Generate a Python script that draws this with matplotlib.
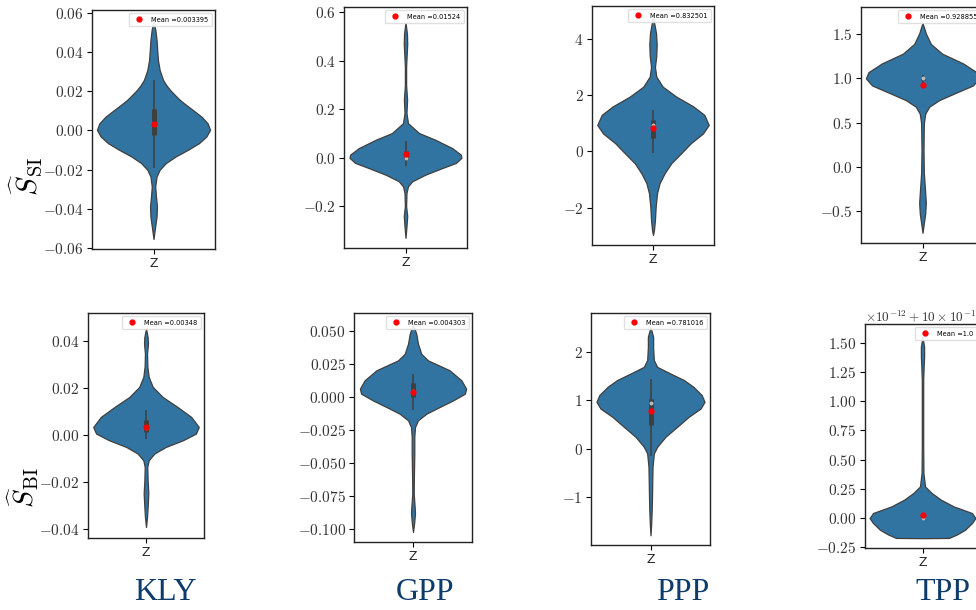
"""
violin grid: sensitivity estimates per model (rows SI / BI, columns KLY..TPP)
output: out.png
"""
import matplotlib.pyplot as plt
import numpy as np

plt.rcParams['mathtext.fontset'] = 'cm'
plt.rcParams['font.family'] = ['DejaVu Sans']

# ===== data =====
# violin outline: y values and half-widths (x units, xlim = -0.5..0.5)
kly_si_y = [-0.0554, -0.0507, -0.0439, -0.0388, -0.0337, -0.0286, -0.0235, -0.0201, -0.0167,
            -0.0133, -0.0099, -0.0065, -0.0031, 0.0003, 0.0036, 0.0070, 0.0104, 0.0130,
            0.0155, 0.0180, 0.0206, 0.0230, 0.0257, 0.0308, 0.0359, 0.0410, 0.0460,
            0.0512, 0.0563]
kly_si_w = [0, 0.010, 0.025, 0.028, 0.020, 0.014, 0.025, 0.050, 0.100, 0.180, 0.280, 0.370,
            0.430, 0.460, 0.440, 0.390, 0.320, 0.265, 0.215, 0.175, 0.135, 0.105, 0.078,
            0.050, 0.036, 0.030, 0.025, 0.015, 0]

gpp_si_y = [-0.33, -0.283, -0.24, -0.2, -0.145, -0.118, -0.097, -0.07, -0.042, -0.021, 0.0,
            0.013, 0.04, 0.075, 0.102, 0.143, 0.185, 0.24, 0.30, 0.377, 0.47, 0.51, 0.56]
gpp_si_w = [0, 0.008, 0.014, 0.005, 0.008, 0.020, 0.054, 0.160, 0.300, 0.410, 0.455,
            0.450, 0.380, 0.240, 0.110, 0.020, 0.008, 0.013, 0.005, 0.005, 0.014, 0.012, 0]

ppp_si_y = [-2.97, -2.8, -2.44, -1.96, -1.49, -1.13, -0.78, -0.42, -0.07, 0.29, 0.64, 0.94,
            1.3, 1.6, 1.95, 2.3, 2.66, 3.0, 3.4, 3.8, 4.2, 4.8]
ppp_si_w = [0, 0.008, 0.016, 0.022, 0.033, 0.054, 0.095, 0.150, 0.230, 0.310, 0.410, 0.457,
            0.420, 0.330, 0.190, 0.080, 0.027, 0.016, 0.027, 0.030, 0.025, 0]

tpp_si_y = [-0.75, -0.64, -0.53, -0.41, -0.3, -0.07, 0.19, 0.49, 0.60, 0.68, 0.755, 0.83,
            0.92, 1.0, 1.07, 1.17, 1.28, 1.39, 1.51, 1.63]
tpp_si_w = [0, 0.011, 0.022, 0.027, 0.022, 0.011, 0.008, 0.011, 0.022, 0.055, 0.137, 0.260,
            0.410, 0.460, 0.440, 0.330, 0.160, 0.068, 0.027, 0]

kly_bi_y = [-0.0393, -0.035, -0.0308, -0.025, -0.0194, -0.0137, -0.0109, -0.008, -0.0052,
            -0.0023, 0.0005, 0.0033, 0.0076, 0.0119, 0.0161, 0.0204, 0.0247, 0.029, 0.0346,
            0.0389, 0.0417, 0.0453]
kly_bi_w = [0, 0.009, 0.014, 0.020, 0.014, 0.011, 0.023, 0.072, 0.170, 0.320, 0.430, 0.455,
            0.390, 0.270, 0.144, 0.058, 0.023, 0.012, 0.009, 0.017, 0.014, 0]

gpp_bi_y = [-0.102, -0.0957, -0.088, -0.083, -0.073, -0.0578, -0.0427, -0.03, -0.0225,
            -0.0174, -0.0124, -0.0073, -0.0023, 0.0028, 0.0066, 0.0129, 0.0205, 0.028,
            0.033, 0.0407, 0.048, 0.0558]
gpp_bi_w = [0, 0.009, 0.017, 0.014, 0.006, 0.008, 0.011, 0.011, 0.017, 0.042, 0.113, 0.226,
            0.340, 0.440, 0.450, 0.410, 0.310, 0.127, 0.070, 0.042, 0.028, 0]

ppp_bi_y = [-1.78, -1.53, -1.19, -0.78, -0.37, -0.094, 0.043, 0.25, 0.455, 0.66, 0.83, 0.97,
            1.11, 1.28, 1.42, 1.55, 1.69, 1.83, 2.10, 2.31, 2.51]
ppp_bi_w = [0, 0.006, 0.011, 0.014, 0.017, 0.028, 0.056, 0.126, 0.224, 0.320, 0.420, 0.454,
            0.430, 0.360, 0.280, 0.170, 0.056, 0.028, 0.022, 0.022, 0]

tpp_bi_y = [-0.172, -0.17, -0.14, -0.1, -0.043, 0.0, 0.043, 0.1, 0.157, 0.214, 0.27, 0.385,
            0.61, 0.896, 1.18, 1.295, 1.38, 1.465, 1.55]
tpp_bi_w = [0, 0.23, 0.30, 0.37, 0.43, 0.46, 0.43, 0.27, 0.16, 0.08, 0.022, 0.008, 0.006,
            0.006, 0.006, 0.010, 0.014, 0.014, 0]

# inner box: whisker low/high, q1/q3, median
box_stats = {
    'kly_si': [-0.019, 0.0257, -0.0023, 0.0108, 0.0035],
    'gpp_si': [-0.035, 0.070, -0.005, 0.027, 0.0],
    'ppp_si': [-0.07, 1.47, 0.47, 1.12, 0.95],
    'tpp_si': [0.95, 1.04, 0.985, 1.01, 1.0],
    'kly_bi': [-0.0016, 0.0107, 0.0012, 0.0062, 0.003],
    'gpp_bi': [-0.0093, 0.018, 0.0003, 0.011, 0.005],
    'ppp_bi': [-0.15, 1.44, 0.49, 1.02, 0.95],
    'tpp_bi': [-0.01, 0.01, -0.005, 0.005, 0.0],
}
means = {'kly_si': 0.003395, 'gpp_si': 0.01524, 'ppp_si': 0.832501, 'tpp_si': 0.928855,
         'kly_bi': 0.00348, 'gpp_bi': 0.004303, 'ppp_bi': 0.781016, 'tpp_bi': 0.03}
mean_labels = {'kly_si': 'Mean =0.003395', 'gpp_si': 'Mean =0.01524',
               'ppp_si': 'Mean =0.832501', 'tpp_si': 'Mean =0.928855',
               'kly_bi': 'Mean =0.00348', 'gpp_bi': 'Mean =0.004303',
               'ppp_bi': 'Mean =0.781016', 'tpp_bi': 'Mean =1.0'}

yticks = {
    'kly_si': [-0.06, -0.04, -0.02, 0.0, 0.02, 0.04, 0.06],
    'gpp_si': [-0.2, 0.0, 0.2, 0.4, 0.6],
    'ppp_si': [-2, 0, 2, 4],
    'tpp_si': [-0.5, 0.0, 0.5, 1.0, 1.5],
    'kly_bi': [-0.04, -0.02, 0.0, 0.02, 0.04],
    'gpp_bi': [-0.1, -0.075, -0.05, -0.025, 0.0, 0.025, 0.05],
    'ppp_bi': [-1, 0, 1, 2],
    'tpp_bi': [-0.25, 0.0, 0.25, 0.5, 0.75, 1.0, 1.25, 1.5],
}
tick_decimals = {'kly_si': 2, 'gpp_si': 1, 'ppp_si': 0, 'tpp_si': 1,
                 'kly_bi': 2, 'gpp_bi': 3, 'ppp_bi': 0, 'tpp_bi': 2}

models = ['KLY', 'GPP', 'PPP', 'TPP']
rows = ['si', 'bi']
row_labels = [r'$\widehat{S}_{\mathrm{SI}}$', r'$\widehat{S}_{\mathrm{BI}}$']
x_label = 'Z'

outlines = {
    'kly_si': (kly_si_y, kly_si_w), 'gpp_si': (gpp_si_y, gpp_si_w),
    'ppp_si': (ppp_si_y, ppp_si_w), 'tpp_si': (tpp_si_y, tpp_si_w),
    'kly_bi': (kly_bi_y, kly_bi_w), 'gpp_bi': (gpp_bi_y, gpp_bi_w),
    'ppp_bi': (ppp_bi_y, ppp_bi_w), 'tpp_bi': (tpp_bi_y, tpp_bi_w),
}

# ===== layout (pixels: left, top, right, bottom) and y ranges =====
W, H = 976, 610
ax_px = {
    'kly_si': (92, 10, 215, 249), 'gpp_si': (344, 7, 467, 248),
    'ppp_si': (592, 6, 714, 245), 'tpp_si': (861, 7, 984, 243),
    'kly_bi': (88, 313, 204, 538), 'gpp_bi': (354, 313, 472, 542),
    'ppp_bi': (591, 313, 710, 545), 'tpp_bi': (865, 324, 980, 548),
}
ylims = {
    'kly_si': (-0.0605, 0.0614), 'gpp_si': (-0.372, 0.622),
    'ppp_si': (-3.33, 5.17), 'tpp_si': (-0.865, 1.809),
    'kly_bi': (-0.044, 0.0519), 'gpp_bi': (-0.1096, 0.0639),
    'ppp_bi': (-1.98, 2.80), 'tpp_bi': (-0.256, 1.659),
}

BODY = '#3274a1'
EDGE = '#3f3f3f'

fig = plt.figure(figsize=(W / 100, H / 100), dpi=100)


def draw_panel(key):
    l, t, r, b = ax_px[key]
    ax = fig.add_axes([l / W, 1 - b / H, (r - l) / W, (b - t) / H])
    ys, ws = outlines[key]
    ys = np.array(ys)
    ws = np.array(ws)
    stats = box_stats[key]
    vp = dict(coords=ys, vals=ws, mean=means[key], median=stats[4],
              min=ys.min(), max=ys.max())
    parts = ax.violin([vp], positions=[0], widths=2 * ws.max(),
                      showmeans=False, showextrema=False, showmedians=False)
    for body in parts['bodies']:
        body.set_facecolor(BODY)
        body.set_edgecolor(EDGE)
        body.set_linewidth(0.9)
        body.set_joinstyle('round')
        body.set_alpha(1)
    # inner box
    ax.vlines(0, stats[0], stats[1], color=EDGE, lw=1.1, zorder=3)
    ax.vlines(0, stats[2], stats[3], color=EDGE, lw=3.5, zorder=3)
    ax.plot(0, stats[4], 'o', color='#bbbbbb', ms=1.8, zorder=4)
    # mean
    ax.plot(0, means[key], 'o', color='red', ms=3.5, zorder=5, label=mean_labels[key])
    ax.legend(loc='upper right', fontsize=4.8, borderpad=0.5, handletextpad=0.8,
              framealpha=0.9, edgecolor='#dddddd')

    ax.set_xlim(-0.5, 0.5)
    ax.set_ylim(*ylims[key])
    ax.set_xticks([0], labels=[x_label], fontsize=9, color='#262626')
    d = tick_decimals[key]
    ticks = yticks[key]
    ax.set_yticks(ticks, labels=[f'${v:.{d}f}$' for v in ticks], fontsize=11,
                  color='#333333')
    ax.tick_params(length=3.5, width=0.8, pad=2.5)
    for s in ax.spines.values():
        s.set_color('#222222')
        s.set_linewidth(1.0)
    return ax


for row in rows:
    for m in models:
        key = f'{m.lower()}_{row}'
        ax = draw_panel(key)
        if key == 'tpp_bi':
            ax.text(0, 1.0, r'$\times10^{-12}+10\times10^{-1}$', transform=ax.transAxes,
                    ha='left', va='bottom', fontsize=9.5, color='#333333')

# row labels
fig.text(26 / W, 1 - 176 / H, row_labels[0], rotation=90, fontsize=21,
         ha='center', va='center')
fig.text(23 / W, 1 - 488 / H, row_labels[1], rotation=90, fontsize=20,
         ha='center', va='center')

# column labels
col_x = [165, 425, 683, 943]
for m, cx in zip(models, col_x):
    fig.text(cx / W, 1 - 593 / H, m, fontsize=23, family='Liberation Serif',
             color='#0e3c6a', ha='center', va='center')

fig.savefig('out.png', dpi=100, facecolor='white')
plt.close()
